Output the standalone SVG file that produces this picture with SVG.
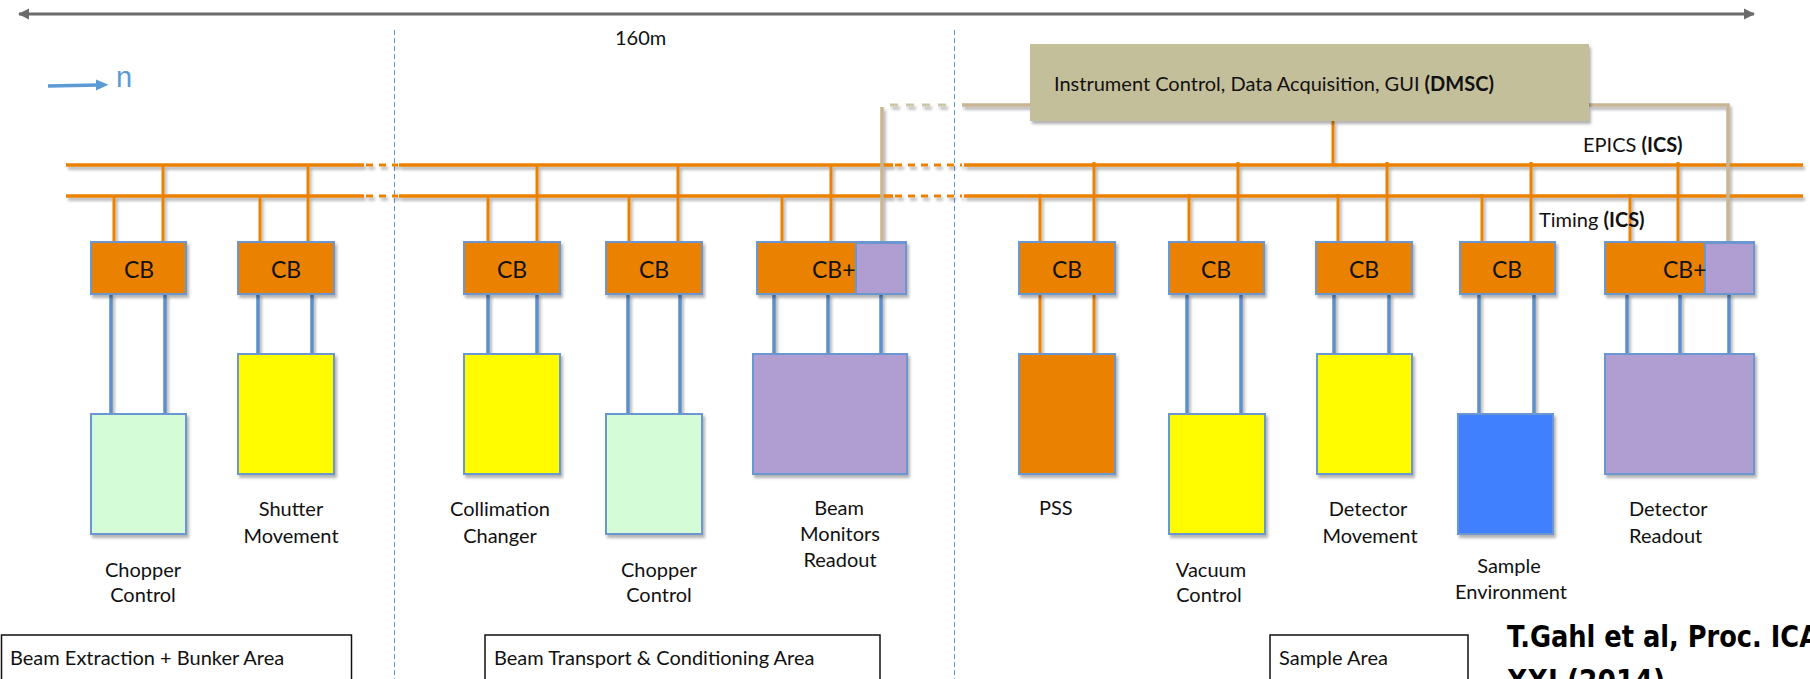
<svg xmlns="http://www.w3.org/2000/svg" width="1810" height="679" viewBox="0 0 1810 679">
<defs>
<filter id="sh" x="-10%" y="-10%" width="130%" height="130%"><feDropShadow dx="2" dy="3" stdDeviation="1.5" flood-color="#000" flood-opacity="0.3"/></filter>
<marker id="ga" viewBox="0 0 10 10" refX="9" refY="5" markerWidth="3.6" markerHeight="3.6" orient="auto-start-reverse"><path d="M0,0 L10,5 L0,10 z" fill="#6b6b6b"/></marker>
</defs>
<style>
.bus{stroke:#EB8104;stroke-width:3.5;fill:none}
.busd{stroke:#EB8104;stroke-width:3;fill:none;stroke-dasharray:7 6}
.drop{stroke:#EB8104;stroke-width:3;fill:none}
.bl{stroke:#5E8FCB;stroke-width:3.5;fill:none}
.tan{stroke:#C7B594;stroke-width:3.5;fill:none}
.tand{stroke:#CBC6A6;stroke-width:3;fill:none;stroke-dasharray:8 8}
.sep{stroke:#5B9BD5;stroke-width:1;stroke-dasharray:5 3;fill:none}
.cb{fill:#EB8104;stroke:#6A97CF;stroke-width:2}
.pu{fill:#B09DD1;stroke:#6A97CF;stroke-width:2}
.ye{fill:#FFFC00;stroke:#6A97CF;stroke-width:2}
.gr{fill:#D4FCD6;stroke:#6A97CF;stroke-width:2}
.or{fill:#EB8104;stroke:#6A97CF;stroke-width:2}
.bu{fill:#4180FF;stroke:#6A97CF;stroke-width:2}
.t{font-family:Lato,"Open Sans","Liberation Sans",sans-serif;font-size:20px;fill:#111}
.c{text-anchor:middle}
.cbt{font-family:Lato,"Open Sans","Liberation Sans",sans-serif;font-size:23px;fill:#111}
.area{fill:#fff;stroke:#111;stroke-width:1.5}
.cite{font-family:"DejaVu Sans Condensed","DejaVu Sans",sans-serif;font-weight:bold;font-size:31px;fill:#000}
</style>
<rect width="1810" height="679" fill="#fff"/>

<g id="scale">
<line x1="19" y1="14" x2="1754" y2="14" stroke="#6b6b6b" stroke-width="3.2" marker-start="url(#ga)" marker-end="url(#ga)"/>
<text class="t" x="615" y="45">160m</text>
</g>

<g id="direction">
<line x1="48" y1="86" x2="98" y2="85" stroke="#5B9BD5" stroke-width="3.6"/>
<polygon points="96,79.5 108.5,84.8 96,90.5" fill="#5B9BD5"/>
<text x="116" y="87" font-family="Liberation Sans,Arial,sans-serif" font-size="29" fill="#5B9BD5">n</text>
</g>

<g id="separators">
<line class="sep" x1="394.5" y1="30" x2="394.5" y2="679"/>
<line class="sep" x1="954.5" y1="30" x2="954.5" y2="679"/>
</g>

<g id="connectors" filter="url(#sh)">
<path class="bus" d="M66,165 H364 M399,165 H893 M964,165 H1803"/>
<path class="bus" d="M66,196 H364 M399,196 H893 M964,196 H1803"/>
<path class="busd" d="M366,165 H398 M895,165 H962"/>
<path class="busd" d="M366,196 H398 M895,196 H962"/>
<path class="drop" d="M114,196 V242 M260,196 V242 M488,196 V242 M629,196 V242 M782,196 V242 M1040,194 V242 M1189,194 V242 M1338,194 V242 M1482,194 V242 M1630,194 V242"/>
<path class="drop" d="M163,165 V242 M308,165 V242 M537,165 V242 M678,165 V242 M831,165 V242 M1094,162 V242 M1238,162 V242 M1387,162 V242 M1531,162 V242 M1678,162 V242"/>
<path class="drop" d="M1333,121 V165"/>
<path class="tan" d="M882,107 V242"/>
<path class="tand" d="M890,105 H952"/>
<path class="tan" d="M962,105 H1030"/>
<path class="tan" d="M1589,105 H1728 V242"/>
<path class="bl" d="M111,294 V414 M165,294 V414"/>
<path class="bl" d="M258,294 V354 M312,294 V354"/>
<path class="bl" d="M488,294 V354 M537,294 V354"/>
<path class="bl" d="M628,294 V414 M680,294 V414"/>
<path class="bl" d="M774,294 V354 M828,294 V354 M881,294 V354"/>
<path class="drop" d="M1040,294 V354 M1094,294 V354"/>
<path class="bl" d="M1187,294 V414 M1241,294 V414"/>
<path class="bl" d="M1334,294 V354 M1389,294 V354"/>
<path class="bl" d="M1479,294 V414 M1534,294 V414"/>
<path class="bl" d="M1627,294 V354 M1680,294 V354 M1729,294 V354"/>
</g>

<g id="dmsc">
<rect x="1030" y="44" width="559" height="77" fill="#C4BF9B" filter="url(#sh)"/>
<text class="t" x="1054" y="91">Instrument Control, Data Acquisition, GUI <tspan font-weight="bold">(DMSC)</tspan></text>
</g>
<g id="bus-labels">
<text class="t" x="1583" y="152">EPICS <tspan font-weight="bold">(ICS)</tspan></text>
<text class="t" x="1539" y="227">Timing <tspan font-weight="bold">(ICS)</tspan></text>
</g>

<g id="cb1"><rect class="cb" x="91" y="242" width="95" height="52" filter="url(#sh)"/><text class="cbt c" x="139" y="278">CB</text></g>
<g id="cb2"><rect class="cb" x="238" y="242" width="96" height="52" filter="url(#sh)"/><text class="cbt c" x="286" y="278">CB</text></g>
<g id="cb3"><rect class="cb" x="464" y="242" width="96" height="52" filter="url(#sh)"/><text class="cbt c" x="512" y="278">CB</text></g>
<g id="cb4"><rect class="cb" x="606" y="242" width="96" height="52" filter="url(#sh)"/><text class="cbt c" x="654" y="278">CB</text></g>
<g id="cb5"><rect class="cb" x="757" y="242" width="149" height="52" filter="url(#sh)"/><rect class="pu" x="856" y="243" width="50" height="51"/><text class="cbt" x="812" y="278">CB+</text></g>
<g id="cb6"><rect class="cb" x="1019" y="242" width="96" height="52" filter="url(#sh)"/><text class="cbt c" x="1067" y="278">CB</text></g>
<g id="cb7"><rect class="cb" x="1169" y="242" width="95" height="52" filter="url(#sh)"/><text class="cbt c" x="1216" y="278">CB</text></g>
<g id="cb8"><rect class="cb" x="1316" y="242" width="96" height="52" filter="url(#sh)"/><text class="cbt c" x="1364" y="278">CB</text></g>
<g id="cb9"><rect class="cb" x="1460" y="242" width="95" height="52" filter="url(#sh)"/><text class="cbt c" x="1507" y="278">CB</text></g>
<g id="cb10"><rect class="cb" x="1605" y="242" width="149" height="52" filter="url(#sh)"/><rect class="pu" x="1705" y="243" width="49" height="51"/><text class="cbt" x="1663" y="278">CB+</text></g>

<g id="chopper1"><rect class="gr" x="91" y="414" width="95" height="120" filter="url(#sh)"/><text class="t c" x="143" y="577">Chopper</text><text class="t c" x="143" y="602">Control</text></g>
<g id="shutter"><rect class="ye" x="238" y="354" width="96" height="120" filter="url(#sh)"/><text class="t c" x="291" y="516">Shutter</text><text class="t c" x="291" y="543">Movement</text></g>
<g id="collimation"><rect class="ye" x="464" y="354" width="96" height="120" filter="url(#sh)"/><text class="t c" x="500" y="516">Collimation</text><text class="t c" x="500" y="543">Changer</text></g>
<g id="chopper2"><rect class="gr" x="606" y="414" width="96" height="120" filter="url(#sh)"/><text class="t c" x="659" y="577">Chopper</text><text class="t c" x="659" y="602">Control</text></g>
<g id="beammon"><rect class="pu" x="753" y="354" width="154" height="120" filter="url(#sh)"/><text class="t c" x="839" y="515">Beam</text><text class="t c" x="840" y="541">Monitors</text><text class="t c" x="840" y="567">Readout</text></g>
<g id="pss"><rect class="or" x="1019" y="354" width="96" height="120" filter="url(#sh)"/><text class="t" x="1039" y="515">PSS</text></g>
<g id="vacuum"><rect class="ye" x="1169" y="414" width="96" height="120" filter="url(#sh)"/><text class="t c" x="1211" y="577">Vacuum</text><text class="t c" x="1209" y="602">Control</text></g>
<g id="detmov"><rect class="ye" x="1317" y="354" width="95" height="120" filter="url(#sh)"/><text class="t c" x="1368" y="516">Detector</text><text class="t c" x="1370" y="543">Movement</text></g>
<g id="sampleenv"><rect class="bu" x="1458" y="414" width="95" height="120" filter="url(#sh)"/><text class="t c" x="1509" y="573">Sample</text><text class="t c" x="1511" y="599">Environment</text></g>
<g id="detread"><rect class="pu" x="1605" y="354" width="149" height="120" filter="url(#sh)"/><text class="t" x="1629" y="516">Detector</text><text class="t" x="1629" y="543">Readout</text></g>

<g id="area1"><rect class="area" x="1.5" y="635" width="350" height="60"/><text class="t" x="10" y="665">Beam Extraction + Bunker Area</text></g>
<g id="area2"><rect class="area" x="485" y="635" width="395" height="60"/><text class="t" x="494" y="665">Beam Transport &amp; Conditioning Area</text></g>
<g id="area3"><rect class="area" x="1270" y="635" width="198" height="60"/><text class="t" x="1279" y="665">Sample Area</text></g>

<g id="citation">
<text class="cite" x="1507" y="647" textLength="352" lengthAdjust="spacingAndGlyphs">T.Gahl et al, Proc. ICANS</text>
<text class="cite" x="1507" y="691" textLength="158" lengthAdjust="spacingAndGlyphs">XXI (2014)</text>
</g>
</svg>
